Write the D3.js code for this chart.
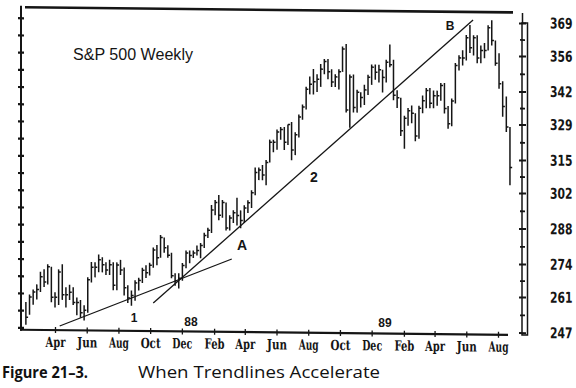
<!DOCTYPE html>
<html>
<head>
<meta charset="utf-8">
<script src="https://cdn.jsdelivr.net/npm/d3@7"></script>
<style>
  body { margin: 0; background: #fff; }
  svg { display: block; }
</style>
</head>
<body>
<script>
// S&P 500 weekly bars, first week ends Fri 5 Feb 1988, last ends 24 Aug 1990
const firstWeek = "1988-02-05";
const highs = [
  257, 260, 262, 264, 269, 270, 272, 271, 261, 270, 272, 263, 264, 263, 259, 258,
  256, 267, 273, 273, 276, 275, 273, 274, 273, 273, 274, 271, 264, 262, 266, 267,
  271, 272, 273, 279, 280, 284, 283, 280, 277, 269, 269, 273, 278, 278, 278, 280,
  281, 285, 287, 296, 298, 300, 298, 297, 292, 294, 299, 294, 296, 298, 302, 311,
  311, 312, 314, 322, 322, 326, 327, 327, 328, 329, 325, 332, 336, 343, 347, 350,
  348, 352, 354, 354, 350, 348, 350, 359, 360, 348, 348, 342, 341, 344, 348, 352,
  352, 352, 350, 354,
  360, 354, 342, 339, 332, 335, 336, 333, 336, 340, 343, 343, 342, 342, 345, 345,
  336, 339, 353, 356, 358, 364, 368, 364, 364, 360, 361, 368, 370, 362, 357, 346,
  340, 328
];
const lows = [
  248, 252, 256, 258, 261, 263, 264, 257, 255, 256, 258, 255, 258, 256, 252, 251,
  250, 253, 265, 267, 269, 269, 268, 268, 262, 262, 268, 260, 257, 256, 258, 262,
  265, 267, 268, 271, 272, 275, 277, 275, 267, 264, 263, 266, 271, 273, 275, 276,
  275, 279, 283, 285, 292, 290, 291, 286, 286, 289, 288, 287, 289, 293, 295, 300,
  306, 306, 304, 313, 317, 318, 322, 318, 320, 314, 316, 323, 330, 334, 340, 340,
  341, 343, 348, 346, 343, 343, 342, 349, 333, 327, 333, 333, 335, 336, 340, 344,
  346, 345, 341, 345,
  351, 338, 335, 324, 319, 328, 329, 322, 323, 333, 335, 335, 335, 336, 338, 333,
  327, 328, 337, 350, 352, 354, 357, 356, 353, 353, 355, 358, 360, 352, 343, 332,
  326, 305
];
const closes = [
  251, 259, 261, 262, 267, 265, 271, 259, 259, 269, 260, 260, 261, 257, 257, 253,
  254, 266, 271, 271, 274, 272, 270, 272, 264, 272, 270, 263, 259, 260, 265, 266,
  270, 269, 272, 278, 275, 283, 279, 276, 268, 266, 267, 272, 277, 276, 277, 278,
  280, 284, 286, 294, 297, 292, 297, 287, 291, 293, 292, 290, 295, 297, 301, 309,
  310, 308, 313, 321, 321, 325, 326, 321, 328, 318, 324, 331, 335, 342, 344, 345,
  346, 350, 353, 349, 345, 347, 349, 358, 334, 347, 335, 341, 339, 342, 347, 351,
  349, 350, 347, 353,
  352, 340, 339, 326, 331, 334, 333, 324, 335, 338, 342, 337, 340, 340, 344, 335,
  329, 338, 352, 355, 355, 363, 359, 363, 355, 358, 358, 367, 362, 353, 345, 336,
  328, 312
];
const yTicks = [247, 261, 274, 288, 302, 315, 329, 342, 356, 369];
const trend1 = [{date: "1988-04-10", value: 247.7}, {date: "1989-03-07", value: 274.8}];
const trend2 = [{date: "1988-10-07", value: 257.1}, {date: "1990-06-14", value: 370.0}];
const notes = [
  {text: "1", x: 134, y: 322, size: 12, weight: "bold"},
  {text: "A", x: 242, y: 250, size: 14, weight: "bold"},
  {text: "2", x: 314, y: 182, size: 14, weight: "bold"},
  {text: "B", x: 450, y: 30, size: 12, weight: "bold"},
  {text: "88", x: 191, y: 326, size: 12, weight: "bold"},
  {text: "89", x: 385, y: 327, size: 12, weight: "bold"}
];

const parse = d3.timeParse("%Y-%m-%d");
const start = parse(firstWeek);
const weeks = highs.map((h, i) => ({
  date: d3.timeDay.offset(start, 7 * i),
  high: h, low: lows[i], close: closes[i]
}));

const svg = d3.select("body").append("svg")
  .attr("width", 576).attr("height", 388);

const x = d3.scaleTime()
  .domain([new Date(1988, 3, 1), new Date(1990, 7, 1)])
  .range([55, 498]);
const y = d3.scaleLinear().domain([247, 369]).range([332.6, 23]);

// the scan leans a little, so the plot is sheared to match
const g = svg.append("g")
  .attr("transform", "translate(522,0) skewY(0.6) translate(-522,0)");

const ink = "#151515";

// frame: top rule, left and bottom lines
g.append("line").attr("x1", 25).attr("x2", 513).attr("y1", 12.5).attr("y2", 12.5)
  .attr("stroke", ink).attr("stroke-width", 2.6);
g.append("line").attr("x1", 21).attr("x2", 21).attr("y1", 11).attr("y2", 336)
  .attr("stroke", ink).attr("stroke-width", 2);
g.append("line").attr("x1", 20).attr("x2", 508).attr("y1", 335).attr("y2", 335)
  .attr("stroke", ink).attr("stroke-width", 2.2);

// left axis, ticks only at half steps
const leftTicks = d3.range(19).map(k => 247 + k * 122 / 18);
const gl = g.append("g").attr("transform", "translate(21,0)")
  .call(d3.axisLeft(y).tickValues(leftTicks).tickSizeInner(3).tickSizeOuter(0).tickFormat(""));
gl.select(".domain").remove();
gl.selectAll(".tick line").attr("x1", 3).attr("stroke", ink).attr("stroke-width", 2.2);

// right axis box with labels
g.append("rect").attr("x", 522).attr("y", 23).attr("width", 5.5).attr("height", 312)
  .attr("fill", "none").attr("stroke", ink).attr("stroke-width", 1.5);
g.append("line").attr("x1", 522.5).attr("x2", 522.5).attr("y1", 13).attr("y2", 23)
  .attr("stroke", ink).attr("stroke-width", 1.5);
const gr = g.append("g").attr("transform", "translate(519,0)")
  .call(d3.axisRight(y).tickValues(yTicks).tickSizeInner(7).tickSizeOuter(0).tickPadding(24));
gr.select(".domain").remove();
gr.selectAll(".tick line").attr("stroke", ink).attr("stroke-width", 2);
gr.selectAll(".tick text")
  .attr("x", 0)
  .attr("transform", "translate(31,0) scale(0.72,1)")
  .attr("fill", ink)
  .style("font-family", "'DejaVu Sans', sans-serif")
  .style("font-weight", "bold")
  .style("font-size", "15px");
const mid = yTicks.slice(1).map((v, i) => (v + yTicks[i]) / 2);
const gm = g.append("g").attr("transform", "translate(520,0)")
  .call(d3.axisRight(y).tickValues(mid).tickSizeInner(5).tickSizeOuter(0).tickFormat(""));
gm.select(".domain").remove();
gm.selectAll(".tick line").attr("stroke", ink).attr("stroke-width", 1.8);

// month axis
const months = d3.timeMonth.range(new Date(1988, 3, 1), new Date(1990, 8, 1), 2);
const gb = g.append("g").attr("transform", "translate(0,335)")
  .call(d3.axisBottom(x).tickValues(months).tickFormat(d3.timeFormat("%b"))
    .tickSizeInner(3).tickSizeOuter(0).tickPadding(4));
gb.select(".domain").remove();
gb.selectAll(".tick line").attr("y1", -3).attr("stroke", ink).attr("stroke-width", 1.3);
gb.selectAll(".tick text")
  .attr("fill", ink)
  .style("font-family", "'DejaVu Serif Condensed', 'DejaVu Serif', serif")
  .style("font-weight", "bold")
  .style("font-size", "14px")
  .attr("textLength", 20).attr("lengthAdjust", "spacingAndGlyphs");

// weekly high-low bars with close tick
const bars = g.append("g").attr("stroke", ink).attr("stroke-width", 1.5);
bars.selectAll("line.hl").data(weeks).join("line").attr("class", "hl")
  .attr("x1", d => x(d.date)).attr("x2", d => x(d.date))
  .attr("y1", d => y(d.high)).attr("y2", d => y(d.low));
bars.selectAll("line.cl").data(weeks).join("line").attr("class", "cl")
  .attr("x1", d => x(d.date)).attr("x2", d => x(d.date) + 2.2)
  .attr("y1", d => y(d.close)).attr("y2", d => y(d.close));

// trendlines
const tl = d3.line().x(d => x(parse(d.date))).y(d => y(d.value));
[trend1, trend2].forEach(t => {
  g.append("path").attr("d", tl(t))
    .attr("fill", "none").attr("stroke", ink).attr("stroke-width", 1.3);
});

// annotations
svg.append("text").attr("x", 73).attr("y", 60)
  .attr("textLength", 120).attr("lengthAdjust", "spacingAndGlyphs")
  .style("font-family", "'Liberation Sans', Arial, sans-serif")
  .style("font-size", "16px").attr("fill", ink)
  .text("S&P 500 Weekly");

svg.selectAll("text.note").data(notes).join("text").attr("class", "note")
  .attr("x", d => d.x).attr("y", d => d.y)
  .attr("text-anchor", "middle")
  .style("font-family", "'Liberation Sans', Arial, sans-serif")
  .style("font-size", d => d.size + "px")
  .style("font-weight", d => d.weight)
  .attr("fill", ink)
  .text(d => d.text);

// caption
svg.append("text").attr("x", 2).attr("y", 378)
  .attr("textLength", 86).attr("lengthAdjust", "spacingAndGlyphs")
  .style("font-family", "'Open Sans', sans-serif")
  .style("font-weight", "bold").style("font-size", "16px").attr("fill", "#111")
  .text("Figure 21\u20133.");
svg.append("text").attr("x", 138).attr("y", 378)
  .attr("textLength", 242).attr("lengthAdjust", "spacingAndGlyphs")
  .style("font-family", "'Open Sans', sans-serif")
  .style("font-size", "16px").attr("fill", "#111")
  .text("When Trendlines Accelerate");
</script>
</body>
</html>
